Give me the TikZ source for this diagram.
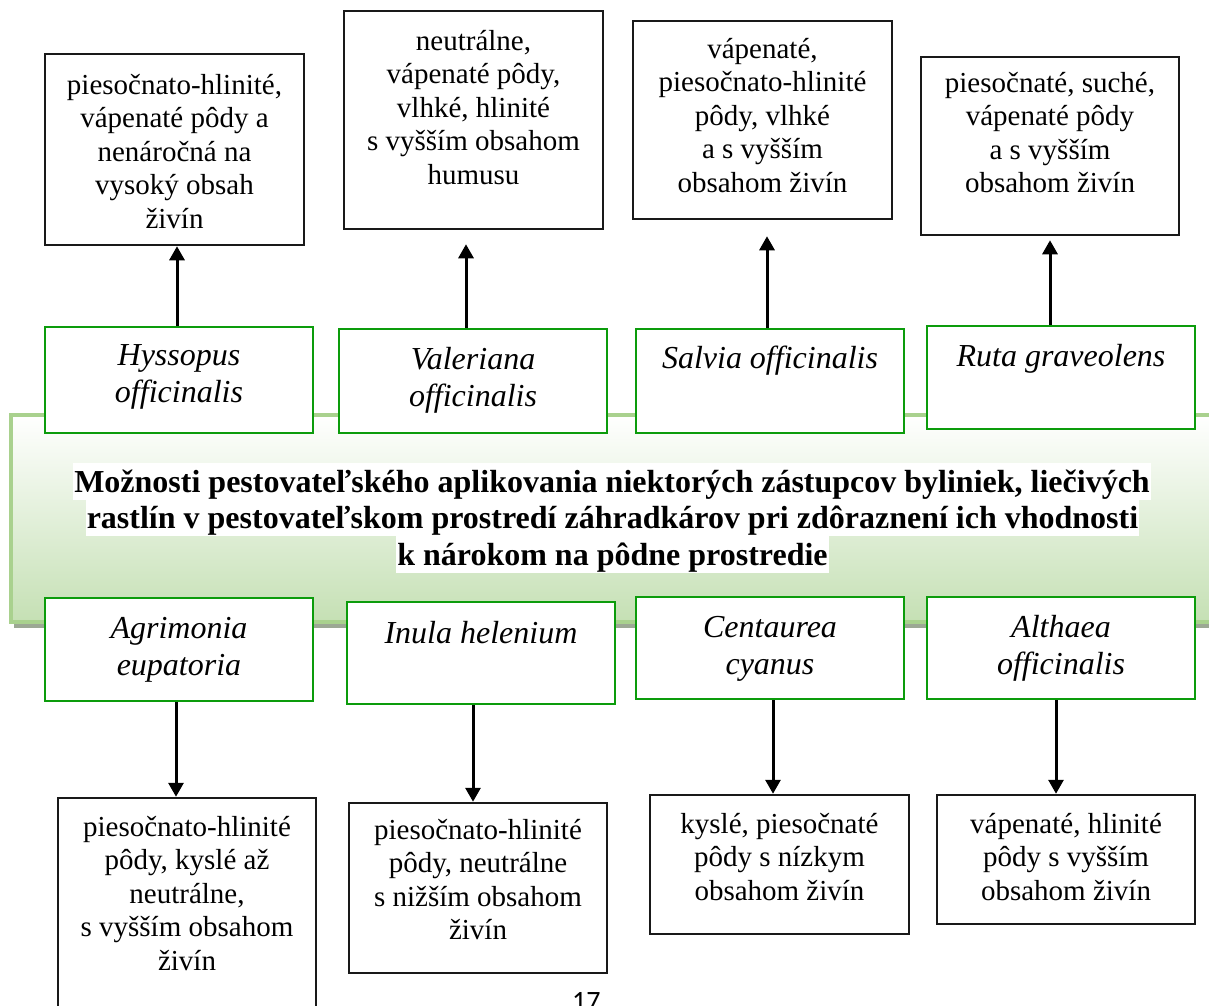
\documentclass[tikz,border=0pt]{standalone}
\usepackage{fontspec}
\setmainfont{Liberation Serif}
\newfontfamily\pagefont{Carlito}
\usetikzlibrary{arrows.meta,calc}

\definecolor{frame}{RGB}{12,156,12}
\definecolor{bannerline}{RGB}{169,209,142}
\definecolor{bannerbottom}{RGB}{197,224,180}
\definecolor{bannershadow}{RGB}{156,168,148}

% fixed-size cell: width, height, first-baseline offset from top, text
\newcommand\cellbox[4]{\parbox[c][#2pt][t]{#1pt}{\centering\rule{0pt}{#3pt}#4}}

\tikzset{
  soil/.style={draw=black!90, line width=2.5pt, fill=white, inner sep=0pt,
    font=\fontsize{29}{33.5}\selectfont},
  plant/.style={draw=frame, line width=2.5pt, fill=white, inner sep=0pt,
    font=\itshape\fontsize{32}{37}\selectfont},
  titleline/.style={fill=white, inner xsep=1pt, inner ysep=0pt, text height=29pt,
    text depth=8pt, anchor=base, font=\bfseries\fontsize{32}{37}\selectfont},
  arr/.style={line width=3pt, -{Triangle[width=15pt,length=14pt]}},
}

\begin{document}
\begin{tikzpicture}[x=1pt,y=-1pt]
\useasboundingbox (0,0) rectangle (1209,1005);
\clip (0,0) rectangle (1209,1005);
\fill[white] (0,0) rectangle (1209,1005);

% central banner with its shadow
\fill[bannershadow] (14,420) rectangle (1225,628);
\shade[top color=white, bottom color=bannerbottom, draw=bannerline, line width=4pt]
  (11,415) rectangle (1225,622);

\node[titleline] (title1) at (612,492) {Možnosti pestovateľského aplikovania niektorých zástupcov byliniek, liečivých};
\node[titleline] (title2) at (612.5,528) {rastlín v pestovateľskom prostredí záhradkárov pri zdôraznení ich vhodnosti};
\node[titleline] (title3) at (612.5,565) {k nárokom na pôdne prostredie};

% plants above the banner
\node[plant] (g1) at (179,380)    {\cellbox{268}{106}{38}{Hyssopus\\officinalis}};
\node[plant] (g2) at (473,381)    {\cellbox{268}{104}{40}{Valeriana\\officinalis}};
\node[plant] (g3) at (770,381)    {\cellbox{268}{104}{39}{Salvia officinalis}};
\node[plant] (g4) at (1061,377.5) {\cellbox{268}{103}{40}{Ruta graveolens}};

% plants below the banner
\node[plant] (h1) at (179,649.5)  {\cellbox{268}{103}{40}{Agrimonia\\eupatoria}};
\node[plant] (h2) at (481,653)    {\cellbox{268}{102}{41}{Inula helenium}};
\node[plant] (h3) at (770,648)    {\cellbox{268}{102}{40}{Centaurea\\cyanus}};
\node[plant] (h4) at (1061,648)   {\cellbox{268}{102}{40}{Althaea\\officinalis}};

% soil requirements, top row
\node[soil] (t1) at (174.5,149.5) {\cellbox{259}{191}{40}{piesočnato-hlinité,\\vápenaté pôdy a\\nenáročná na\\vysoký obsah\\živín}};
\node[soil] (t2) at (473.5,120)   {\cellbox{259}{218}{39}{neutrálne,\\vápenaté pôdy,\\vlhké, hlinité\\s vyšším obsahom\\humusu}};
\node[soil] (t3) at (762.5,120)   {\cellbox{259}{198}{37}{vápenaté,\\piesočnato-hlinité\\pôdy, vlhké\\a s vyšším\\obsahom živín}};
\node[soil] (t4) at (1050,146)    {\cellbox{258}{178}{35}{piesočnaté, suché,\\vápenaté pôdy\\a s vyšším\\obsahom živín}};

% soil requirements, bottom row
\node[soil] (b1) at (187,909)     {\cellbox{258}{222}{38}{piesočnato-hlinité\\pôdy, kyslé až\\neutrálne,\\s vyšším obsahom\\živín}};
\node[soil] (b2) at (478,888)     {\cellbox{258}{170}{36}{piesočnato-hlinité\\pôdy, neutrálne\\s nižším obsahom\\živín}};
\node[soil] (b3) at (779.5,864.5) {\cellbox{259}{139}{38}{kyslé, piesočnaté\\pôdy s nízkym\\obsahom živín}};
\node[soil] (b4) at (1066,859.5)  {\cellbox{258}{129}{38}{vápenaté, hlinité\\pôdy s vyšším\\obsahom živín}};

% connectors
\draw[arr] ($(t1.south |- g1.north)+(2.5,0)$) -- ($(t1.south)+(2.5,0)$);
\draw[arr, shorten >=14pt] ($(t2.south |- g2.north)+(-7.5,0)$) -- ($(t2.south)+(-7.5,0)$);
\draw[arr, shorten >=16pt] ($(t3.south |- g3.north)+(4.5,0)$) -- ($(t3.south)+(4.5,0)$);
\draw[arr, shorten >=4pt] (t4.south |- g4.north) -- (t4.south);

\draw[arr] ($(h1.south)+(-3,0)$) -- ($(h1.south |- b1.north)+(-3,0)$);
\draw[arr] ($(h2.south)+(-8,0)$) -- ($(h2.south |- b2.north)+(-8,0)$);
\draw[arr] ($(h3.south)+(3,0)$) -- ($(h3.south |- b3.north)+(3,0)$);
\draw[arr] ($(h4.south)+(-5,0)$) -- ($(h4.south |- b4.north)+(-5,0)$);

% page number
\node[font=\pagefont\fontsize{28}{30}\selectfont, anchor=base west, inner sep=0pt] (pg) at (572,1010) {17};
\end{tikzpicture}
\end{document}
